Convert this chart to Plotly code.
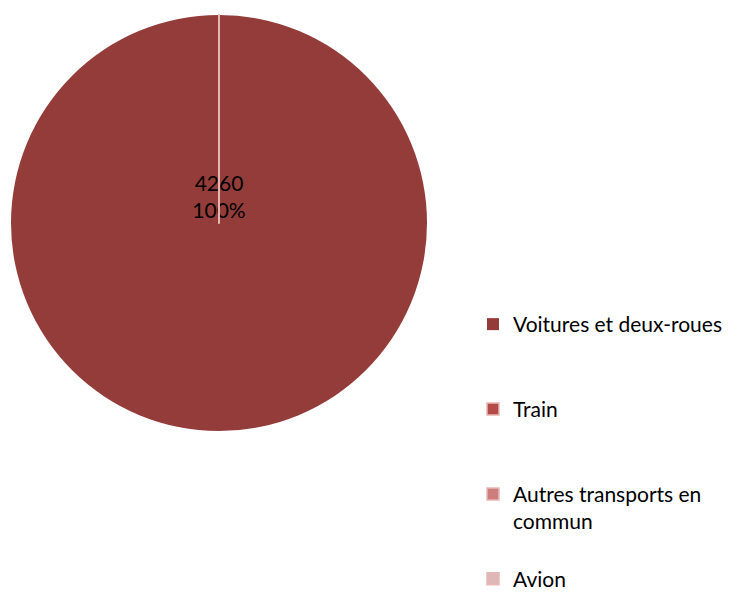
import plotly.graph_objects as go

categories = ["Voitures et deux-roues", "Train", "Autres transports en<br>commun", "Avion"]
values = [4260, 0, 0, 0]
colors = ["#943C3A", "#B44B49", "#CD7D7B", "#DEB7B6"]

# pad legend entries (except the last) so each occupies the same height
legend_labels = []
for i, c in enumerate(categories):
    n = c.count("<br>") + 1
    pad = 0 if i == len(categories) - 1 else 3 - n
    legend_labels.append(c + "<br> " * pad)

W, H = 740, 593
OFF = 8  # page body margin offset

fig = go.Figure(go.Pie(
    labels=legend_labels,
    values=values,
    sort=False,
    direction="clockwise",
    rotation=0,
    marker=dict(colors=colors, line=dict(color="#E8B8B7", width=[0, 1.5, 1.5, 1.5])),
    texttemplate="%{value}<br>%{percent:.0%}<br> <br> ",
    textposition="inside",
    insidetextfont=dict(color="black", size=21, family="Lato"),
    hoverinfo="label+value+percent",
    domain=dict(x=[(11-OFF)/W, (427-OFF)/W], y=[1-(431-OFF)/H, 1-(15-OFF)/H]),
    showlegend=True,
))

fig.update_layout(
    width=W, height=H,
    margin=dict(l=0, r=0, t=0, b=0, autoexpand=False),
    paper_bgcolor="white",
    plot_bgcolor="white",
    font=dict(family="Lato", color="black"),
    legend=dict(
        xref="container", yref="container",
        x=465/W, y=1-(304-OFF)/H, xanchor="left", yanchor="top",
        font=dict(size=21, family="Lato", color="black"),
        valign="top",
        traceorder="normal",
    ),
)

fig.write_html("out.html")
